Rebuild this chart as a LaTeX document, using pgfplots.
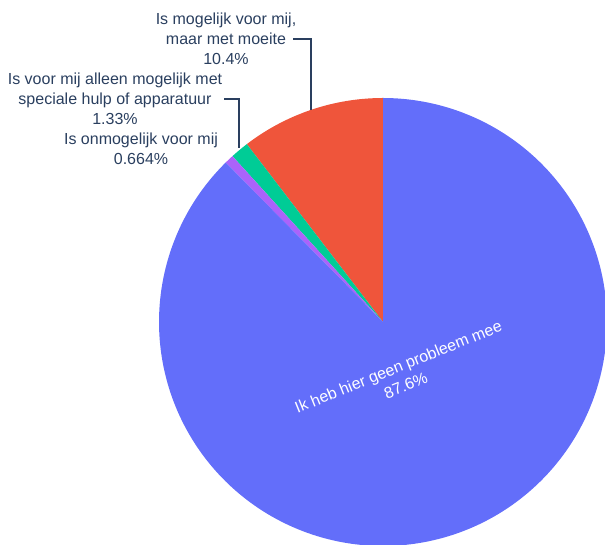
\documentclass[border=0pt]{standalone}
\usepackage{fontspec}
\setmainfont{Liberation Sans}
\usepackage{pgfplots}
\pgfplotsset{compat=1.18}
\definecolor{sliceblue}{HTML}{636EFA}
\definecolor{slicered}{HTML}{EF553B}
\definecolor{slicegreen}{HTML}{00CC96}
\definecolor{slicepurple}{HTML}{AB63FA}
\definecolor{txt}{HTML}{2A3F5F}

\tikzset{lbl/.style={font=\fontsize{16}{20}\selectfont, text=txt, align=center, inner sep=0pt}}

% shares in percent
\def\pRed{10.4}
\def\pGreen{1.33}
\def\pPurple{0.664}
\def\pBlue{87.6}

\pgfmathsetmacro{\aA}{90}
\pgfmathsetmacro{\aB}{\aA+3.6*\pRed}
\pgfmathsetmacro{\aC}{\aB+3.6*\pGreen}
\pgfmathsetmacro{\aD}{\aC+3.6*\pPurple}
\pgfmathsetmacro{\aE}{\aD+3.6*\pBlue}

\begin{document}
\begin{tikzpicture}
\begin{axis}[
  at={(0,0)}, anchor=south west,
  width=605pt, height=545pt, scale only axis,
  xmin=0, xmax=605, ymin=0, ymax=545,
  hide axis,
]
% pie, centre (383,223), radius 224
\addplot[fill=slicered, draw=none, domain=\aA:\aB, samples=60, variable=\t]
  ({383+224*cos(t)},{223+224*sin(t)}) -- (383,223) -- cycle;
\addplot[fill=slicegreen, draw=none, domain=\aB:\aC, samples=10, variable=\t]
  ({383+224*cos(t)},{223+224*sin(t)}) -- (383,223) -- cycle;
\addplot[fill=slicepurple, draw=none, domain=\aC:\aD, samples=6, variable=\t]
  ({383+224*cos(t)},{223+224*sin(t)}) -- (383,223) -- cycle;
\addplot[fill=sliceblue, draw=none, domain=\aD:\aE, samples=300, variable=\t]
  ({383+224*cos(t)},{223+224*sin(t)}) -- (383,223) -- cycle;

% leader lines
\addplot[txt, line width=1.5pt] coordinates {(293,506) (311,506) (311,435)};
\addplot[txt, line width=1.5pt] coordinates {(224,446) (239,446) (239,397)};

\node[lbl] at (axis cs:226,506) {Is mogelijk voor mij,\\maar met moeite\\10.4\%};
\node[lbl] at (axis cs:115,446) {Is voor mij alleen mogelijk met\\speciale hulp of apparatuur\\1.33\%};
\node[lbl] at (axis cs:141,396) {Is onmogelijk voor mij\\0.664\%};
\node[lbl, text=white, rotate=22] at (axis cs:402,169) {Ik heb hier geen probleem mee\\87.6\%};
\end{axis}
\pgfresetboundingbox
\path[use as bounding box] (0,0) rectangle (605pt,545pt);
\end{tikzpicture}
\end{document}
